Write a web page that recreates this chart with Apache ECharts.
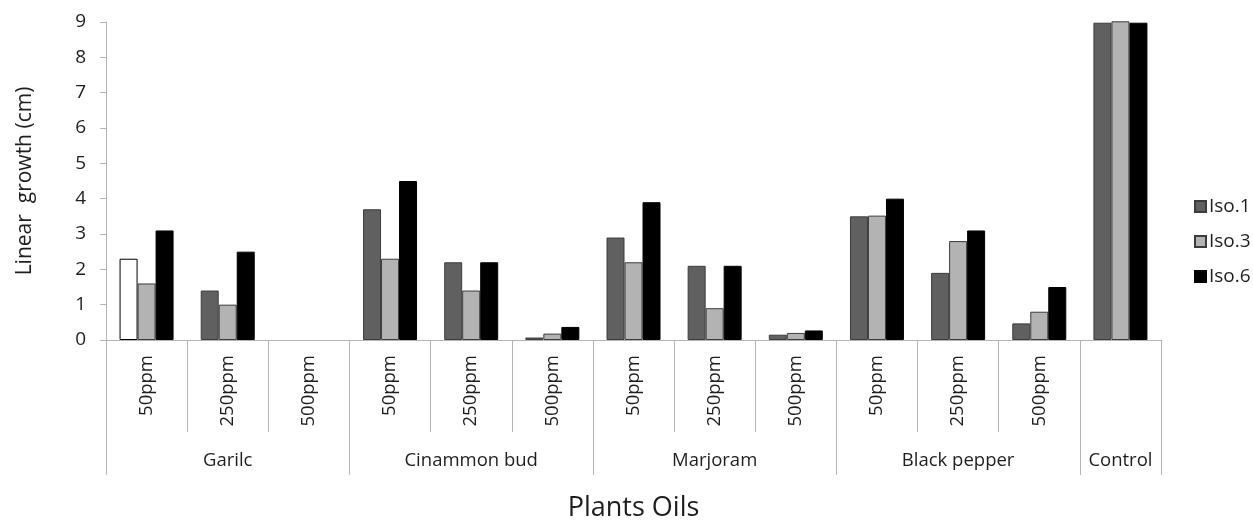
<!DOCTYPE html>
<html>
<head>
<meta charset="utf-8">
<script src="https://cdn.jsdelivr.net/npm/echarts@6/dist/echarts.min.js"></script>
<style>html,body{margin:0;padding:0;background:#fff}#c{width:1253px;height:527px}</style>
</head>
<body>
<div id="c"></div>
<script>
const doseLabels = ['50ppm','250ppm','500ppm','50ppm','250ppm','500ppm','50ppm','250ppm','500ppm','50ppm','250ppm','500ppm',''];
const groupNames = ['Garilc','Cinammon bud','Marjoram','Black pepper','Control'];
const groupSizes = [3,3,3,3,1];
const seriesNames = ['Iso.1','Iso.3','Iso.6'];
const iso1 = [2.3, 1.4, 0, 3.7, 2.2, 0.07, 2.9, 2.1, 0.15, 3.5, 1.9, 0.47, 8.98];
const iso3 = [1.6, 1.0, 0, 2.3, 1.4, 0.18, 2.2, 0.9, 0.2, 3.52, 2.8, 0.8, 9.02];
const iso6 = [3.1, 2.5, 0, 4.5, 2.2, 0.37, 3.9, 2.1, 0.27, 4.0, 3.1, 1.5, 8.98];
const yTicks = [0,1,2,3,4,5,6,7,8,9];

// group label row: name at the centre category of each group; ticks at group starts
const groupRow = [];
const groupStarts = [];
let idx = 0;
groupSizes.forEach((s, g) => {
  groupStarts.push(idx);
  for (let k = 0; k < s; k++) groupRow.push(k === Math.floor(s / 2) ? groupNames[g] : '');
  idx += s;
});

const FONT = '"Open Sans", "Noto Sans", sans-serif';
const axisGrey = '#b4b4b4';
const txt = '#1e1e1e';

const colors = ['#606060', '#b3b3b3', '#000000'];
const dataSets = [iso1, iso3, iso6];

const series = dataSets.map((arr, si) => ({
  name: seriesNames[si],
  type: 'bar',
  xAxisIndex: 0,
  barWidth: 18,
  barGap: '0%',
  clip: false,
  itemStyle: { color: colors[si], borderColor: si === 2 ? '#000' : '#3c3c3c', borderWidth: 1 },
  emphasis: { disabled: true },
  data: arr.map((v, i) => {
    if (si === 0 && i === 0) return { value: v, itemStyle: { color: '#ffffff', borderColor: '#000000' } };
    return v === 0 ? '-' : v;
  })
}));

const chart = echarts.init(document.getElementById('c'), null, { renderer: 'canvas' });
chart.setOption({
  animation: false,
  backgroundColor: '#ffffff',
  textStyle: { fontFamily: FONT },
  grid: { left: 106, right: 92, top: 22, bottom: 182, containLabel: false },
  legend: {
    orient: 'vertical',
    left: 1189,
    top: 191,
    itemWidth: 11,
    itemHeight: 11,
    itemGap: 14,
    icon: 'rect',
    textStyle: { fontFamily: FONT, fontSize: 19, color: txt, lineHeight: 21, padding: [0, 0, 0, -2] },
    data: seriesNames
  },
  xAxis: [
    {
      type: 'category',
      data: doseLabels,
      position: 'bottom',
      axisLine: { show: true, lineStyle: { color: axisGrey, width: 1 } },
      axisTick: { show: true, length: 92, lineStyle: { color: axisGrey } },
      axisLabel: { interval: 0, rotate: 90, margin: 15, fontSize: 18.5, color: txt, fontFamily: FONT }
    },
    {
      type: 'category',
      data: groupRow,
      position: 'bottom',
      offset: 0,
      axisLine: { show: false },
      axisTick: {
        show: true, length: 135, lineStyle: { color: axisGrey },
        interval: (i) => groupStarts.indexOf(i) >= 0
      },
      axisLabel: { interval: 0, margin: 111, fontSize: 18.5, color: txt, fontFamily: FONT },
      name: 'Plants Oils',
      nameLocation: 'middle',
      nameGap: 155,
      nameTextStyle: { fontSize: 27, color: txt, fontFamily: FONT }
    }
  ],
  yAxis: {
    type: 'value',
    min: 0,
    max: 9,
    interval: 1,
    name: 'Linear  growth (cm)',
    nameLocation: 'middle',
    nameGap: 70,
    nameTextStyle: { fontSize: 21, color: txt, fontFamily: FONT },
    axisLine: { show: true, lineStyle: { color: axisGrey } },
    axisTick: { show: true, length: 6, lineStyle: { color: axisGrey } },
    splitLine: { show: false },
    axisLabel: { margin: 20, fontSize: 19, color: txt, fontFamily: FONT,
      formatter: (v) => (yTicks.indexOf(v) >= 0 ? String(v) : '') }
  },
  series: series
});
</script>
</body>
</html>
